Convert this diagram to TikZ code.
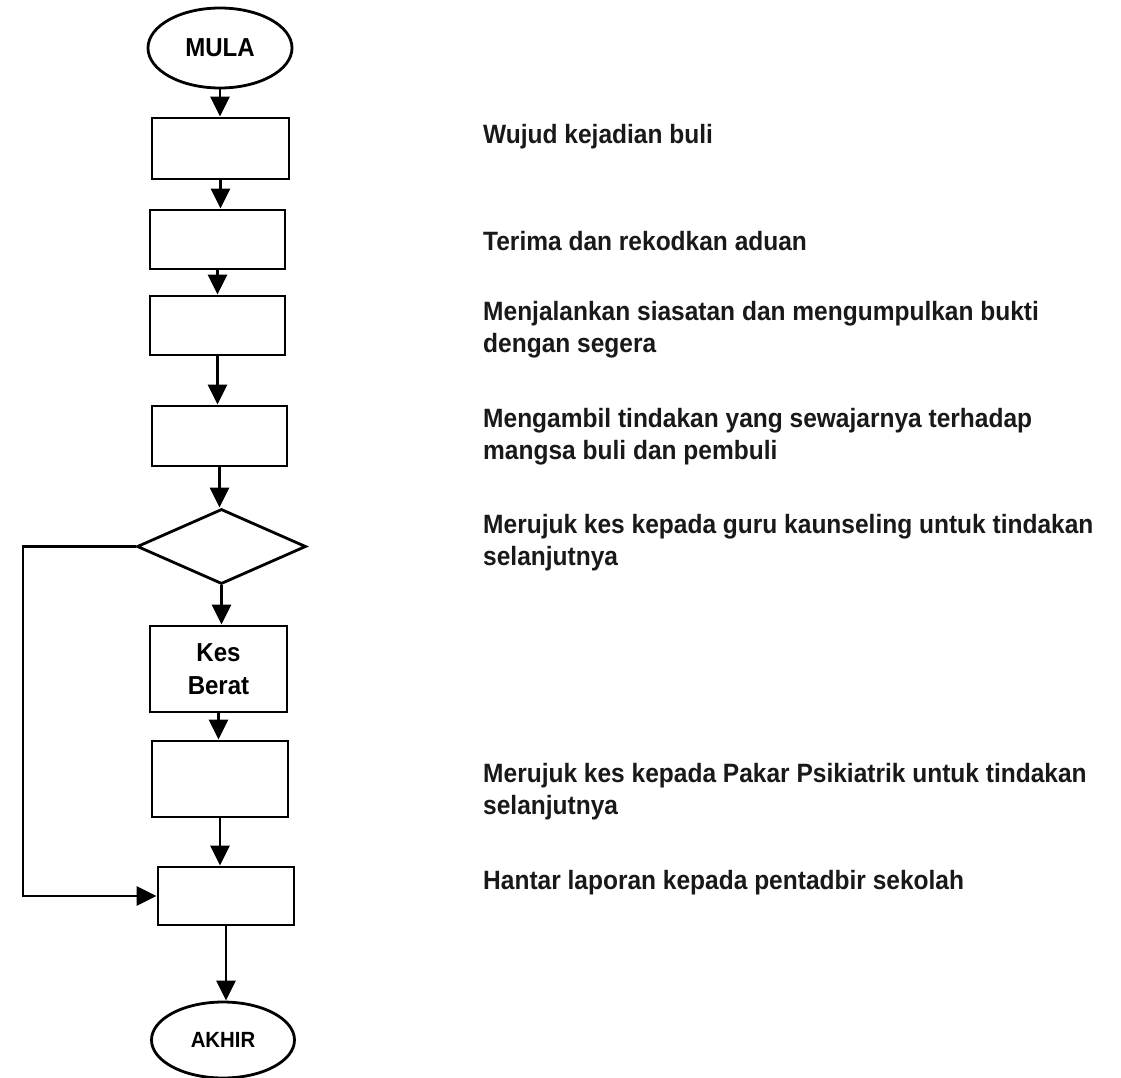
\documentclass[tikz,border=0pt]{standalone}
\usepackage{fontspec}
\newfontfamily\lab{Liberation Sans}[FakeStretch=0.925]
\usetikzlibrary{shapes.geometric,arrows.meta}
\tikzset{
  flow/.style={draw, line width=2.8pt, inner sep=0pt, font=\lab\bfseries\fontsize{26}{33}\selectfont},
  procbox/.style={flow, rectangle, minimum width=136pt, minimum height=60pt},
  term/.style={flow, ellipse},
  decbox/.style={flow, diamond, minimum width=169pt, minimum height=75pt},
  arr/.style={line width=2.8pt, -{Triangle[width=19pt,length=20pt]}},
  note/.style={anchor=base west, inner sep=0pt, text=black!90, font=\lab\bfseries\fontsize{26.5}{32}\selectfont},
}
\begin{document}
\begin{tikzpicture}[x=1pt,y=-1pt]
\useasboundingbox (0,0) rectangle (1121,1078);
% flowchart
\node[term, minimum width=144pt, minimum height=80pt] (start) at (220,48) {MULA};
\node[procbox, minimum width=137pt, minimum height=61pt] (b1) at (220.5,148.5) {};
\node[procbox, minimum width=135pt, minimum height=59pt] (b2) at (217.5,239.5) {};
\node[procbox, minimum width=135pt, minimum height=59pt] (b3) at (217.5,325.5) {};
\node[procbox, minimum width=135pt, minimum height=60pt] (b4) at (219.5,436) {};
\node[decbox] (d) at (221.5,546.5) {};
\node[procbox, minimum width=137pt, minimum height=86pt, align=center] (kb) at (218.5,669) {Kes\\Berat};
\node[procbox, minimum width=136pt, minimum height=76pt] (b6) at (220,779) {};
\node[procbox, minimum width=136pt, minimum height=58pt] (b7) at (226,896) {};
\node[term, minimum width=143pt, minimum height=76pt, font=\lab\bfseries\fontsize{22}{26}\selectfont] (stop) at (223,1040) {AKHIR};
\coordinate (lp) at (23,546.5);
% connectors
\draw[arr] (start.south) -- (start.south |- b1.north);
\draw[arr] (b1.south) -- (b1.south |- b2.north);
\draw[arr] (b2.south) -- (b2.south |- b3.north);
\draw[arr] (b3.south) -- (b3.south |- b4.north);
\draw[arr] (b4.south) -- (b4.south |- d.north);
\draw[arr] (d.south) -- (d.south |- kb.north);
\draw[arr] (kb.south) -- (kb.south |- b6.north);
\draw[arr] (b6.south) -- (b6.south |- b7.north);
\draw[arr] (b7.south) -- (b7.south |- stop.north);
\draw[arr] (d.west) -- (lp) |- (b7.west);
% notes
\node[note] (n1) at (483,144) {Wujud kejadian buli};
\node[note] (n2) at (483,250) {Terima dan rekodkan aduan};
\node[note] (n3a) at (483,320) {Menjalankan siasatan dan mengumpulkan bukti};
\node[note] (n3b) at (483,352) {dengan segera};
\node[note] (n4a) at (483,427) {Mengambil tindakan yang sewajarnya terhadap};
\node[note] (n4b) at (483,459) {mangsa buli dan pembuli};
\node[note] (n5a) at (483,533) {Merujuk kes kepada guru kaunseling untuk tindakan};
\node[note] (n5b) at (483,565) {selanjutnya};
\node[note] (n6a) at (483,782) {Merujuk kes kepada Pakar Psikiatrik untuk tindakan};
\node[note] (n6b) at (483,814) {selanjutnya};
\node[note] (n7) at (483,889) {Hantar laporan kepada pentadbir sekolah};
\end{tikzpicture}
\end{document}
